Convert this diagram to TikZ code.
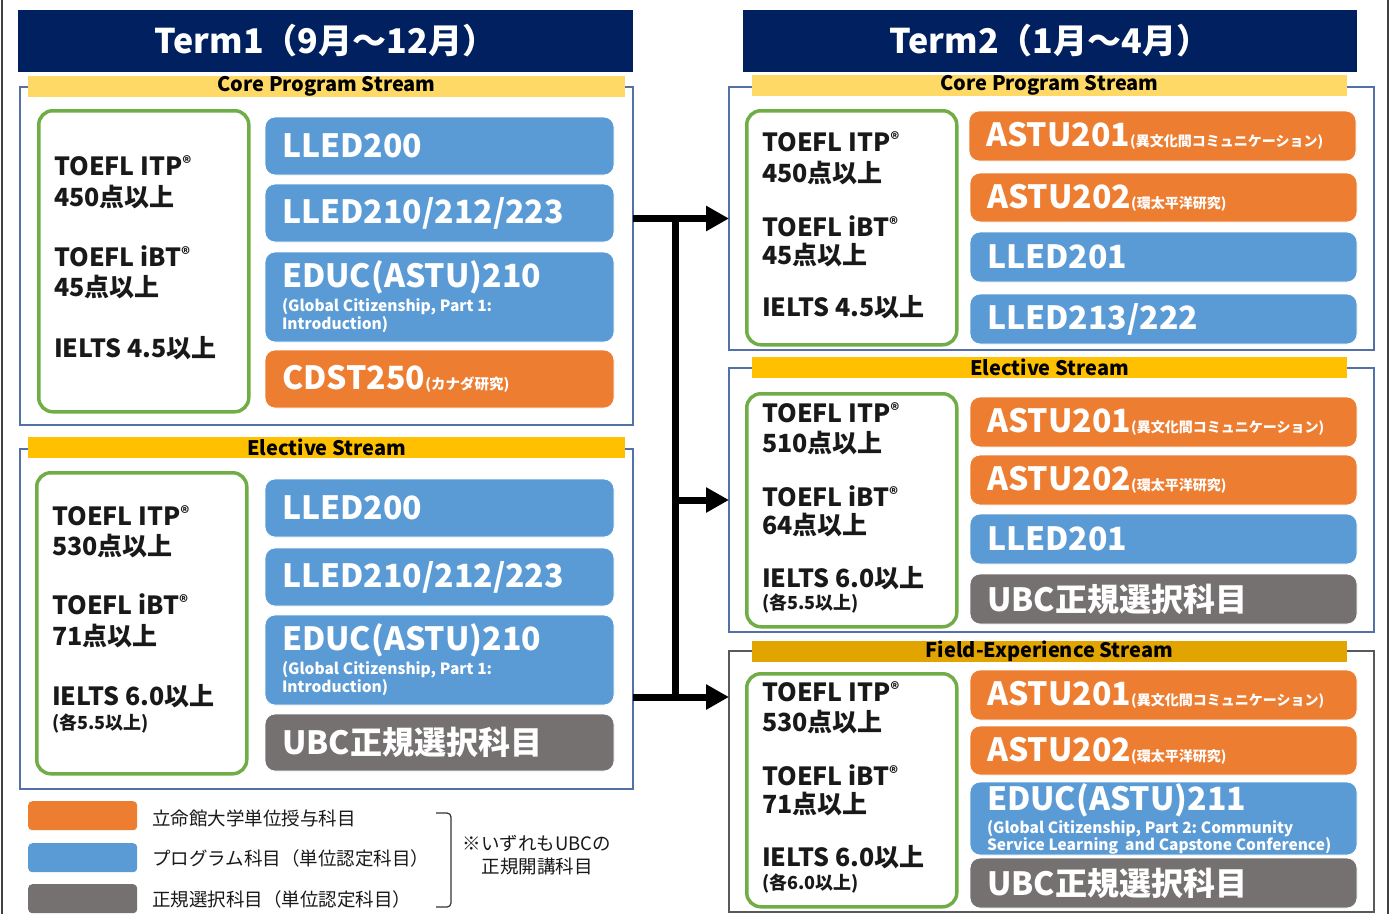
\documentclass[tikz,border=0pt]{standalone}
\usepackage{fontspec}
\setmainfont{Noto Sans CJK JP}
\usetikzlibrary{arrows.meta}
\newcommand\fs[1]{\fontsize{#1}{#1}\selectfont}
\newcommand\reg{{\fs{17}\raisebox{6pt}{®}}}
\definecolor{navy}{HTML}{002060}
\definecolor{goldA}{HTML}{FFD966}
\definecolor{goldB}{HTML}{FFC000}
\definecolor{goldC}{HTML}{E2A400}
\definecolor{corange}{HTML}{ED7D31}
\definecolor{cblue}{HTML}{5B9BD5}
\definecolor{cgray}{HTML}{767171}
\definecolor{cgreen}{HTML}{70AD47}
\definecolor{boxline}{HTML}{5470A8}
\definecolor{fieldline}{HTML}{595959}
\tikzset{
  header/.style={anchor=north west, fill=navy, text=white, inner sep=0pt, outer sep=0pt, font=\bfseries\fs{34}},
  outerbox/.style={anchor=north west, draw=boxline, line width=1.4pt, inner sep=0pt, outer sep=0pt},
  banner/.style={anchor=north west, inner sep=0pt, outer sep=0pt, minimum height=21pt, font=\bfseries\fs{20}, text=black},
  greenbox/.style={anchor=north west, draw=cgreen, line width=3.5pt, rounded corners=14pt, inner sep=0pt, fill=white},
  course/.style={anchor=north west, rounded corners=10pt, draw=white, line width=0.8pt, inner xsep=17pt, inner ysep=0pt, outer sep=0pt, text=white, align=left, font=\bfseries\fs{32}},
  lcourse/.style={course, minimum width=349pt, text width=315pt},
  rcourse/.style={course, minimum width=387pt, text width=353pt},
  gtext/.style={anchor=west, inner sep=0pt, font=\bfseries\fs{25}, text=black!90},
  gsmall/.style={anchor=west, inner sep=0pt, font=\bfseries\fs{18}, text=black!90},
  swatch/.style={anchor=north west, rounded corners=4pt, minimum width=109pt, minimum height=29pt, inner sep=0pt},
  legtext/.style={anchor=west, inner sep=0pt, font=\fs{18.5}, text=black!90},
  conn/.style={line width=7pt, draw=black},
  arr/.style={conn, -{Triangle[length=23pt,width=24pt]}},
}
\newcommand\gl[3]{\node[gtext] (#1) at (#2) {#3};}
\newcommand\sm[1]{\mbox{\fs{15.5}\frenchspacing\spaceskip=3.8pt\relax #1}}
\begin{document}
\begin{tikzpicture}[x=1pt,y=-1pt]
\useasboundingbox (0,0) rectangle (1391,914);
\fill[white] (0,0) rectangle (1391,914);
% outer frame lines
\draw[line width=2.5pt, draw=black!75] (2,0) -- (2,914);
\draw[line width=2.5pt, draw=black!75] (1388,0) -- (1388,914);

% headers
\node[header, minimum width=615pt, minimum height=62pt] (h1) at (18,10) {Term1（9月～12月）};
\node[header, minimum width=614pt, minimum height=62pt] (h2) at (743,10) {Term2（1月～4月）};

% ===== left core =====
\node[outerbox, minimum width=613pt, minimum height=338pt] (lcore) at (20,87) {};
\node[banner, fill=goldA, minimum width=597pt] (lcoreb) at (28,76) {Core Program Stream};
\node[greenbox, minimum width=210pt, minimum height=301pt] (lcoreg) at (37,109) {};
\gl{lc1}{54,166}{TOEFL ITP\reg}
\gl{lc2}{54,197}{450点以上}
\gl{lc3}{54,256}{TOEFL iBT\reg}
\gl{lc4}{54,287}{45点以上}
\gl{lc5}{54,348}{IELTS 4.5以上}
\node[lcourse, fill=cblue, minimum height=58pt] (lc_a) at (265,117) {LLED200};
\node[lcourse, fill=cblue, minimum height=58pt] (lc_b) at (265,184) {LLED210/212/223};
\node[lcourse, fill=cblue, minimum height=90pt] (lc_c) at (265,252) {EDUC(ASTU)210\\[-8pt]\sm{(Global Citizenship, Part 1:}\\[-14pt]\sm{Introduction)}};
\node[lcourse, fill=corange, minimum height=58pt] (lc_d) at (265,350) {CDST250{\fs{14.5}(カナダ研究)}};

% ===== left elective =====
\node[outerbox, minimum width=613pt, minimum height=340pt] (lelec) at (20,449) {};
\node[banner, fill=goldB, minimum width=597pt] (lelecb) at (28,437) {Elective Stream};
\node[greenbox, minimum width=210pt, minimum height=301pt] (lelecg) at (35,471) {};
\gl{le1}{52,516}{TOEFL ITP\reg}
\gl{le2}{52,546}{530点以上}
\gl{le3}{52,604}{TOEFL iBT\reg}
\gl{le4}{52,636}{71点以上}
\gl{le5}{52,696}{IELTS 6.0以上}
\node[gsmall] (le6) at (52,724) {(各5.5以上)};
\node[lcourse, fill=cblue, minimum height=58pt] (le_a) at (265,479) {LLED200};
\node[lcourse, fill=cblue, minimum height=58pt] (le_b) at (265,548) {LLED210/212/223};
\node[lcourse, fill=cblue, minimum height=90pt] (le_c) at (265,615) {EDUC(ASTU)210\\[-8pt]\sm{(Global Citizenship, Part 1:}\\[-14pt]\sm{Introduction)}};
\node[lcourse, fill=cgray, minimum height=57pt] (le_d) at (265,714) {UBC正規選択科目};

% ===== right core =====
\node[outerbox, minimum width=645pt, minimum height=263pt] (rcore) at (729,87) {};
\node[banner, fill=goldA, minimum width=595pt] (rcoreb) at (752,75) {Core Program Stream};
\node[greenbox, minimum width=210pt, minimum height=234pt] (rcoreg) at (745,109) {};
\gl{rc1}{762,142}{TOEFL ITP\reg}
\gl{rc2}{762,173}{450点以上}
\gl{rc3}{762,226}{TOEFL iBT\reg}
\gl{rc4}{762,255}{45点以上}
\gl{rc5}{762,307}{IELTS 4.5以上}
\node[rcourse, fill=corange, minimum height=50pt] (rc_a) at (969,111) {ASTU201{\fs{14}(異文化間コミュニケーション)}};
\node[rcourse, fill=corange, minimum height=49pt] (rc_b) at (970,173) {ASTU202{\fs{14}(環太平洋研究)}};
\node[rcourse, fill=cblue, minimum height=50pt] (rc_c) at (970,232) {LLED201};
\node[rcourse, fill=cblue, minimum height=50pt] (rc_d) at (970,294) {LLED213/222};

% ===== right elective =====
\node[outerbox, minimum width=645pt, minimum height=264pt] (relec) at (729,368) {};
\node[banner, fill=goldB, minimum width=595pt] (relecb) at (752,357) {Elective Stream};
\node[greenbox, minimum width=210pt, minimum height=233pt] (relecg) at (745,392) {};
\gl{re1}{762,413}{TOEFL ITP\reg}
\gl{re2}{762,443}{510点以上}
\gl{re3}{762,496}{TOEFL iBT\reg}
\gl{re4}{762,525}{64点以上}
\gl{re5}{762,578}{IELTS 6.0以上}
\node[gsmall] (re6) at (762,604) {(各5.5以上)};
\node[rcourse, fill=corange, minimum height=50pt] (re_a) at (970,397) {ASTU201{\fs{14}(異文化間コミュニケーション)}};
\node[rcourse, fill=corange, minimum height=50pt] (re_b) at (970,455) {ASTU202{\fs{14}(環太平洋研究)}};
\node[rcourse, fill=cblue, minimum height=50pt] (re_c) at (970,514) {LLED201};
\node[rcourse, fill=cgray, minimum height=50pt] (re_d) at (970,574) {UBC正規選択科目};

% ===== right field =====
\node[outerbox, draw=fieldline, minimum width=645pt, minimum height=261pt] (rfield) at (729,651) {};
\node[banner, fill=goldC, minimum width=595pt] (rfieldb) at (752,641) {Field-Experience Stream};
\node[greenbox, minimum width=210pt, minimum height=233pt] (rfieldg) at (745,672) {};
\gl{rf1}{762,692}{TOEFL ITP\reg}
\gl{rf2}{762,722}{530点以上}
\gl{rf3}{762,775}{TOEFL iBT\reg}
\gl{rf4}{762,804}{71点以上}
\gl{rf5}{762,857}{IELTS 6.0以上}
\node[gsmall] (rf6) at (762,884) {(各6.0以上)};
\node[rcourse, fill=corange, minimum height=50pt] (rf_a) at (970,670) {ASTU201{\fs{14}(異文化間コミュニケーション)}};
\node[rcourse, fill=corange, minimum height=49pt] (rf_b) at (970,726) {ASTU202{\fs{14}(環太平洋研究)}};
\node[rcourse, fill=cblue, minimum height=73pt] (rf_c) at (970,782) {EDUC(ASTU)211\\[-9pt]\sm{(Global Citizenship, Part 2: Community}\\[-15pt]\sm{Service Learning\hspace{7pt}and Capstone Conference)}};
\node[rcourse, fill=cgray, minimum height=50pt] (rf_d) at (970,858) {UBC正規選択科目};

% ===== connectors =====
\coordinate (j1) at (675,218);
\coordinate (j3) at (675,697);
\draw[arr] (lcore.east |- rcore.west) -- (rcore.west);
\draw[conn] (j1 |- rcore.west) -- (j3);
\draw[arr] (j1 |- relec.west) -- (relec.west);
\draw[arr] (lelec.east |- j3) -- (rfield.west |- j3);

% ===== legend =====
\node[swatch, fill=corange] (sw1) at (28,801) {};
\node[swatch, fill=cblue] (sw2) at (28,843) {};
\node[swatch, fill=cgray] (sw3) at (28,884) {};
\node[legtext] (lt1) at (152,818) {立命館大学単位授与科目};
\node[legtext] (lt2) at (152,858) {プログラム科目（単位認定科目）};
\node[legtext] (lt3) at (152,899) {正規選択科目（単位認定科目）};
\draw[line width=1.2pt, draw=black!80, rounded corners=4pt] (436,813) -- (451,813) -- (451,907) -- (436,907);
\node[align=center, inner sep=0pt, font=\fs{18.5}, text=black!90] (note) at (537,855) {※いずれもUBCの\\[4pt]正規開講科目};
\end{tikzpicture}
\end{document}
